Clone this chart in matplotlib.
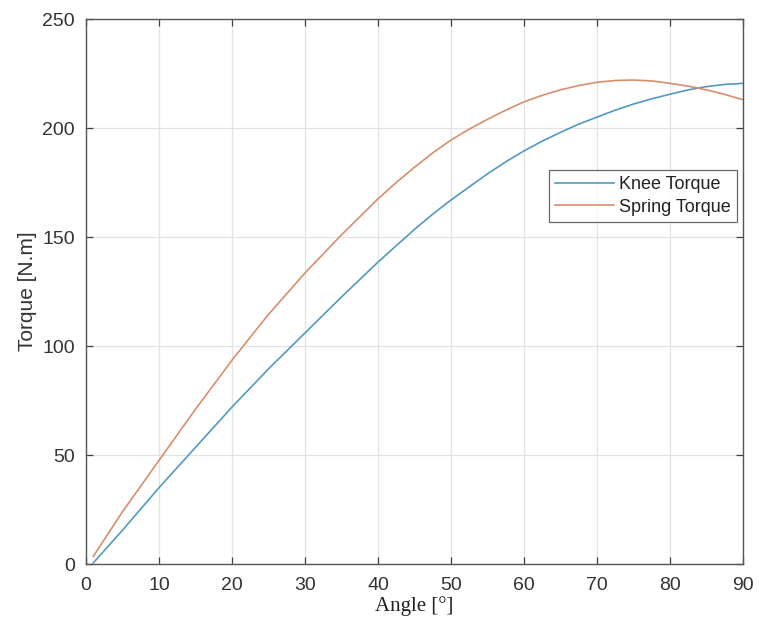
import matplotlib
matplotlib.use("Agg")
import matplotlib.pyplot as plt

# values
angle = [1, 5, 10, 15, 20, 25, 30, 35, 40, 42.5, 45, 47.5, 50, 52.5, 55, 57.5, 60,
         62.5, 65, 67.5, 70, 72.5, 75, 77.5, 80, 82.5, 85, 87.5, 90]
knee_torque = [0.5, 15.5, 35, 53.5, 72, 89.5, 106, 122.5, 138.5, 146, 153.5, 160.5,
               167, 173, 179, 184.5, 189.5, 194, 198, 201.8, 205, 208.2, 211, 213.4,
               215.5, 217.5, 219, 220, 220.5]
spring_torque = [3.5, 24, 47.5, 71, 93.5, 114.5, 133.5, 151, 167.5, 175, 182, 188.6,
                 194.5, 199.5, 204, 208.2, 212, 215, 217.5, 219.5, 221, 221.8, 222,
                 221.6, 220.5, 219.2, 217.5, 215.4, 213]

x_ticks = [0, 10, 20, 30, 40, 50, 60, 70, 80, 90]
y_ticks = [0, 50, 100, 150, 200, 250]

sans = ['Liberation Sans', 'DejaVu Sans']
plt.rcParams['font.family'] = sans

fig = plt.figure(figsize=(7.59, 6.28), dpi=100)
ax = fig.add_axes([0.1133, 0.1019, 0.8656, 0.8678])

ax.plot(angle, knee_torque, color='#5299c0', lw=1.2, label='Knee Torque')
ax.plot(angle, spring_torque, color='#d88e6b', lw=1.2, label='Spring Torque')

ax.set_xlim(0, 90)
ax.set_ylim(0, 250)
ax.set_xticks(x_ticks)
ax.set_yticks(y_ticks)

# matlab look: box, ticks inside on all sides, light grid
ax.grid(True, color='#e3e3e3', lw=0.9)
ax.set_axisbelow(True)
ax.tick_params(direction='in', length=5, width=0.9, top=True, right=True,
               labelsize=14, colors='#404040', labelcolor='#333333')
ax.tick_params(axis='x', pad=9)
ax.tick_params(axis='y', pad=8)
for s in ax.spines.values():
    s.set_color('#555555')
    s.set_linewidth(1.0)

ax.set_ylabel('Torque [N.m]', fontsize=15, family=sans, color='#333333', labelpad=4)
ax.set_xlabel('Angle [°]', fontsize=15, family=['Liberation Serif', 'DejaVu Serif'],
              color='#222222', labelpad=2)

leg = ax.legend(loc='upper right', bbox_to_anchor=(0.991, 0.723), fontsize=13,
                frameon=True, fancybox=False, edgecolor='#444444',
                handlelength=3.3, labelspacing=0.3, borderpad=0.35,
                handletextpad=0.25, borderaxespad=0)
leg.get_frame().set_linewidth(0.9)
for t in leg.get_texts():
    t.set_color('#222222')

plt.savefig('out.png', dpi=100)
